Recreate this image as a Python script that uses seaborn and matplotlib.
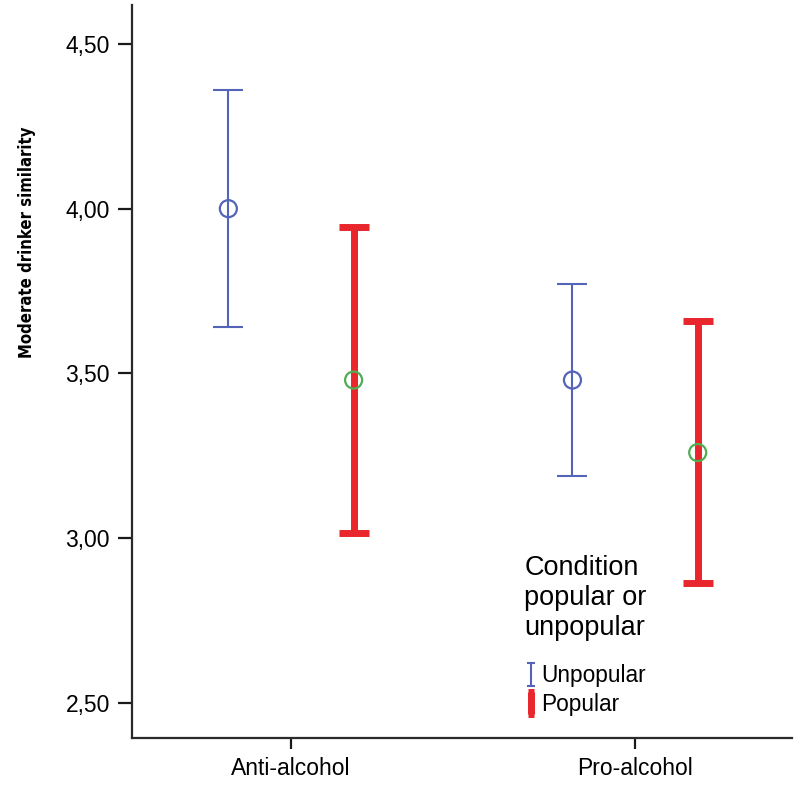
import numpy as np
import pandas as pd
import matplotlib
matplotlib.use("Agg")
import matplotlib.pyplot as plt
from matplotlib import font_manager as fm
from matplotlib.ticker import FuncFormatter
import seaborn as sns

# ---- data ----
categories = ["Anti-alcohol", "Pro-alcohol"]
groups = ["Unpopular", "Popular"]
unpopular_mean = [4.00, 3.48]
unpopular_lo = [3.64, 3.19]
unpopular_hi = [4.36, 3.77]
popular_mean = [3.48, 3.26]
popular_lo = [3.015, 2.865]
popular_hi = [3.945, 3.66]
yticks = [2.50, 3.00, 3.50, 4.00, 4.50]

sns.set_theme(style="white")
plt.rcParams["font.family"] = ["Liberation Sans", "DejaVu Sans"]
plt.rcParams["text.color"] = "black"
plt.rcParams["xtick.color"] = "black"
plt.rcParams["ytick.color"] = "black"

# look for a condensed bold face for the y label
narrow_prop = None
for f in fm.fontManager.ttflist:
    st = str(f.stretch).lower()
    if ("narrow" in f.name.lower() or "condensed" in f.name.lower()
            or st in ("condensed", "semi-condensed", "extra-condensed")):
        w = f.weight
        if (isinstance(w, (int, float)) and w >= 600) or str(w).lower() in ("bold", "semibold", "demibold", "heavy"):
            narrow_prop = fm.FontProperties(fname=f.fname)
            break

fig = plt.figure(figsize=(8, 7.92), dpi=100)
ax = fig.add_axes([0.165, 0.0682, 0.825, 0.9255])

df = pd.DataFrame({
    "category": categories * 2,
    "group": [groups[0]] * 2 + [groups[1]] * 2,
    "mean": unpopular_mean + popular_mean,
    "lo": unpopular_lo + popular_lo,
    "hi": unpopular_hi + popular_hi,
})
offsets = {"Unpopular": -0.182, "Popular": 0.182}
df["xpos"] = df["category"].map({c: i for i, c in enumerate(categories)}) + df["group"].map(offsets)

bar_style = {
    "Unpopular": dict(color="#5364b9", lw=1.5, capsize=10.8, capthick=1.5),
    "Popular": dict(color="#e8262c", lw=5.0, capsize=10.8, capthick=5.0),
}
marker_color = {"Unpopular": "#5364b9", "Popular": "#4fae52"}

for g in groups:
    sub = df[df["group"] == g]
    st = bar_style[g]
    ax.errorbar(sub["xpos"], sub["mean"],
                yerr=[sub["mean"] - sub["lo"], sub["hi"] - sub["mean"]],
                fmt="none", ecolor=st["color"], elinewidth=st["lw"],
                capsize=st["capsize"], capthick=st["capthick"], zorder=2)
    sns.scatterplot(x=sub["xpos"].values, y=sub["mean"].values, ax=ax,
                    marker="o", s=150, facecolor="none",
                    edgecolor=marker_color[g], linewidth=1.6,
                    legend=False, zorder=3)

ax.set_xlim(-0.462, 1.456)
ax.set_ylim(2.394, 4.618)
ax.set_xticks(range(len(categories)))
ax.set_xticklabels(categories)
ax.set_yticks(yticks)
ax.yaxis.set_major_formatter(FuncFormatter(lambda v, p: f"{v:.2f}".replace(".", ",")))
ax.set_xlabel("")
ax.set_ylabel("")

for s in ["top", "right"]:
    ax.spines[s].set_visible(False)
for s in ["left", "bottom"]:
    ax.spines[s].set_color("#2a2a2a")
    ax.spines[s].set_linewidth(1.6)
ax.tick_params(axis="y", which="major", direction="out", length=10, width=1.6,
               color="#1a1a1a", labelsize=16.5, pad=6, left=True)
ax.tick_params(axis="x", which="major", direction="out", length=8, width=1.6,
               color="#1a1a1a", labelsize=16.5, pad=6, bottom=True)
ax.grid(False)

# y label (bold, condensed look), sized to match the reference length
if narrow_prop is not None:
    ylab = fig.text(0.034, 0.694, "Moderate drinker similarity", rotation=90,
                    ha="center", va="center", fontproperties=narrow_prop)
    ylab.set_fontsize(15)
    target = 232
else:
    ylab = fig.text(0.034, 0.694, "Moderate drinker similarity", rotation=90,
                    ha="center", va="center", fontsize=13.5, fontweight="bold")
    target = 238
fig.canvas.draw()
ext = ylab.get_window_extent(renderer=fig.canvas.get_renderer())
ylab.set_fontsize(ylab.get_fontsize() * target / ext.height)

# legend handles (dummy errorbars at NaN positions)
h_unpop = ax.errorbar([np.nan], [np.nan], yerr=[[0.1]], fmt="none",
                      ecolor="#5364b9", elinewidth=1.5, capsize=3, capthick=1.5)
h_pop = ax.errorbar([np.nan], [np.nan], yerr=[[0.1]], fmt="none",
                    ecolor="#e8262c", elinewidth=5, capsize=2.5, capthick=5)
leg = ax.legend([h_unpop, h_pop], groups, title="Condition\npopular or\nunpopular",
                loc="upper left", bbox_to_anchor=(513 / 800, 1 - 544 / 792),
                bbox_transform=fig.transFigure, frameon=False,
                fontsize=16.3, title_fontsize=19.5, handlelength=0.6,
                handletextpad=0.15, labelspacing=0.25, borderpad=0,
                alignment="left")
leg._legend_box.sep = 0.25 * 16.3 + 12.5

fig.savefig("out.png", dpi=100)
